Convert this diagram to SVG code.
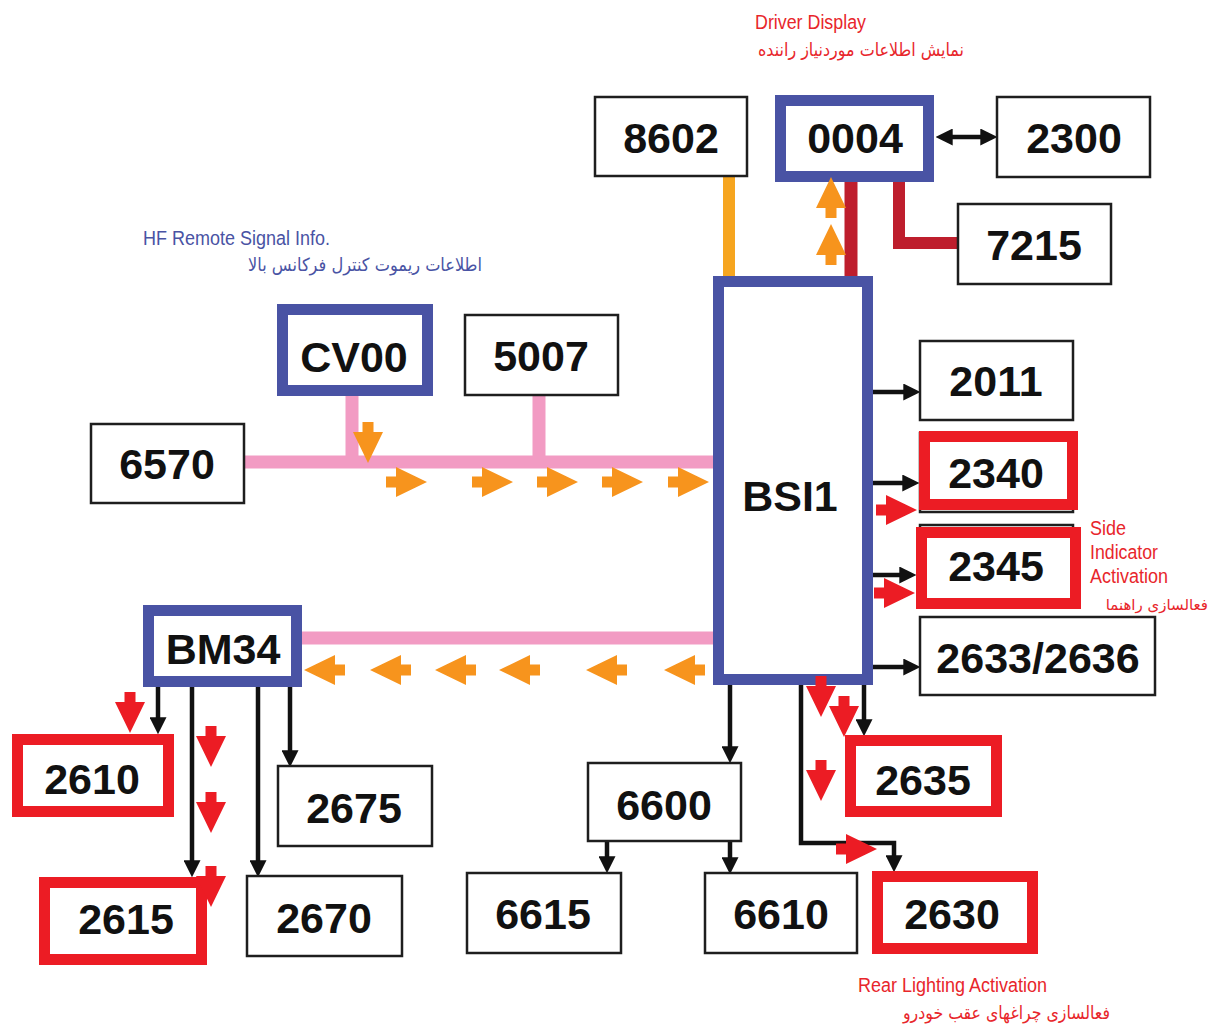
<svg xmlns="http://www.w3.org/2000/svg" xmlns:xlink="http://www.w3.org/1999/xlink" width="1217" height="1024" viewBox="0 0 1217 1024">
<style>
.box{fill:#fff;stroke:#1e1e1e;stroke-width:2.5}
.blue{fill:#fff;stroke:#4953a4;stroke-width:11}
.red{fill:#fff;stroke:#ec1c24;stroke-width:11}
.lbl{font-family:"Liberation Sans",Arial,sans-serif;font-weight:bold;font-size:43px;fill:#111;text-anchor:middle}
.ln{fill:none;stroke:#111;stroke-width:4.5;marker-end:url(#ah)}
.en{font-family:"Liberation Sans Narrow","Liberation Sans",Arial,sans-serif;font-size:20px}
.fa{font-family:"DejaVu Sans","Noto Sans",sans-serif;font-size:18px}
.rt{fill:#e8262b}
.bt{fill:#4953a4}
.or{fill:#f7941d}
.rd{fill:#ec1c24}
</style>
<defs>
<marker id="ah" markerUnits="userSpaceOnUse" markerWidth="17" markerHeight="17" refX="8" refY="7" orient="auto-start-reverse" viewBox="0 0 14 14">
<path d="M0,0 L14,7 L0,14 Z" fill="#111"/>
</marker>
<path id="ba" d="M-41,-5.5 H-31 V-15 L0,0 L-31,15 V5.5 H-41 Z"/>
</defs>

<g id="connectors">
<path d="M245,462 H714" stroke="#f29bc3" stroke-width="13" fill="none"/>
<path d="M352,396 V462" stroke="#f29bc3" stroke-width="13" fill="none"/>
<path d="M539,395 V462" stroke="#f29bc3" stroke-width="13" fill="none"/>
<path d="M302,638 H714" stroke="#f29bc3" stroke-width="13" fill="none"/>
<path d="M729,176 V278" stroke="#f6a51f" stroke-width="12" fill="none"/>
<path d="M851,182 V278" stroke="#be1e2d" stroke-width="13" fill="none"/>
<path d="M899,182 V243 H959" stroke="#be1e2d" stroke-width="12" fill="none"/>
<path class="ln" d="M943,137 H990" marker-start="url(#ah)"/>
<path class="ln" d="M873,392 H913"/>
<path class="ln" d="M873,483 H912"/>
<path class="ln" d="M873,575 H909"/>
<path class="ln" d="M873,667 H913"/>
<path class="ln" d="M730,685 V756"/>
<path class="ln" d="M864,685 V729"/>
<path class="ln" d="M801,685 V843 H894 V865"/>
<path class="ln" d="M607,841 V866"/>
<path class="ln" d="M730,841 V867"/>
<path class="ln" d="M158,687 V727"/>
<path class="ln" d="M192,687 V870"/>
<path class="ln" d="M258,687 V870"/>
<path class="ln" d="M290,687 V760"/>
</g>

<g id="node-8602"><rect class="box" x="595" y="97" width="152" height="79"/><text class="lbl" x="671" y="153">8602</text></g>
<g id="node-0004"><rect class="blue" x="780.5" y="100.5" width="148" height="76"/><text class="lbl" x="855" y="153">0004</text></g>
<g id="node-2300"><rect class="box" x="997" y="97" width="153" height="80"/><text class="lbl" x="1074" y="153">2300</text></g>
<g id="node-7215"><rect class="box" x="958" y="204" width="153" height="80"/><text class="lbl" x="1034" y="260">7215</text></g>
<g id="node-CV00"><rect class="blue" x="282.5" y="309.5" width="145" height="81"/><text class="lbl" x="354" y="372">CV00</text></g>
<g id="node-5007"><rect class="box" x="465" y="315" width="153" height="80"/><text class="lbl" x="541" y="371">5007</text></g>
<g id="node-6570"><rect class="box" x="91" y="424" width="153" height="79"/><text class="lbl" x="167" y="479">6570</text></g>
<g id="node-BSI1"><rect class="blue" x="718.5" y="281.5" width="149" height="398"/><text class="lbl" x="790" y="511">BSI1</text></g>
<g id="node-2011"><rect class="box" x="920" y="341" width="153" height="79"/><text class="lbl" x="996" y="396">2011</text></g>
<g id="node-2340"><rect class="box" x="920" y="433" width="153" height="79"/><rect class="red" x="924.5" y="436.5" width="148" height="68"/><text class="lbl" x="996" y="488">2340</text></g>
<g id="node-2345"><rect class="box" x="920" y="525" width="153" height="79"/><rect class="red" x="921.5" y="532.5" width="154" height="71"/><text class="lbl" x="996" y="581">2345</text></g>
<g id="node-2633-2636"><rect class="box" x="920" y="617" width="235" height="78"/><text class="lbl" x="1038" y="673">2633/2636</text></g>
<g id="node-BM34"><rect class="blue" x="148.5" y="610.5" width="148" height="71"/><text class="lbl" x="223" y="664">BM34</text></g>
<g id="node-2610"><rect class="red" x="17.5" y="739.5" width="151" height="72"/><text class="lbl" x="92" y="794">2610</text></g>
<g id="node-2615"><rect class="red" x="44.5" y="882.5" width="157" height="77"/><text class="lbl" x="126" y="934">2615</text></g>
<g id="node-2675"><rect class="box" x="278" y="766" width="154" height="80"/><text class="lbl" x="354" y="823">2675</text></g>
<g id="node-2670"><rect class="box" x="247" y="876" width="155" height="80"/><text class="lbl" x="324" y="933">2670</text></g>
<g id="node-6600"><rect class="box" x="588" y="763" width="153" height="78"/><text class="lbl" x="664" y="820">6600</text></g>
<g id="node-6615"><rect class="box" x="467" y="873" width="154" height="80"/><text class="lbl" x="543" y="929">6615</text></g>
<g id="node-6610"><rect class="box" x="705" y="873" width="152" height="80"/><text class="lbl" x="781" y="929">6610</text></g>
<g id="node-2630"><rect class="red" x="877.5" y="876.5" width="155" height="72"/><text class="lbl" x="952" y="929">2630</text></g>
<g id="node-2635"><rect class="red" x="850.5" y="740.5" width="146" height="71"/><text class="lbl" x="923" y="795">2635</text></g>

<g id="flow-arrows">
<use href="#ba" class="or" transform="translate(831,177) rotate(-90)"/>
<use href="#ba" class="or" transform="translate(831,224) rotate(-90)"/>
<use href="#ba" class="or" transform="translate(368,463) rotate(90)"/>
<use href="#ba" class="or" transform="translate(427,482)"/>
<use href="#ba" class="or" transform="translate(513,482)"/>
<use href="#ba" class="or" transform="translate(578,482)"/>
<use href="#ba" class="or" transform="translate(643,482)"/>
<use href="#ba" class="or" transform="translate(709,482)"/>
<use href="#ba" class="or" transform="translate(304,670) rotate(180)"/>
<use href="#ba" class="or" transform="translate(370,670) rotate(180)"/>
<use href="#ba" class="or" transform="translate(435,670) rotate(180)"/>
<use href="#ba" class="or" transform="translate(499,670) rotate(180)"/>
<use href="#ba" class="or" transform="translate(586,670) rotate(180)"/>
<use href="#ba" class="or" transform="translate(664,670) rotate(180)"/>
<use href="#ba" class="rd" transform="translate(917,510)"/>
<use href="#ba" class="rd" transform="translate(915,593)"/>
<use href="#ba" class="rd" transform="translate(821,717) rotate(90)"/>
<use href="#ba" class="rd" transform="translate(844,737) rotate(90)"/>
<use href="#ba" class="rd" transform="translate(821,801) rotate(90)"/>
<use href="#ba" class="rd" transform="translate(877,849)"/>
<use href="#ba" class="rd" transform="translate(130,733) rotate(90)"/>
<use href="#ba" class="rd" transform="translate(211,767) rotate(90)"/>
<use href="#ba" class="rd" transform="translate(211,833) rotate(90)"/>
<use href="#ba" class="rd" transform="translate(211,907) rotate(90)"/>
</g>

<g id="labels">
<text class="en rt" x="755" y="29" textLength="111" lengthAdjust="spacingAndGlyphs">Driver Display</text>
<text class="fa rt" x="758" y="56" textLength="206" lengthAdjust="spacingAndGlyphs">نمایش اطلاعات موردنیاز راننده</text>
<text class="en bt" x="143" y="245" textLength="187" lengthAdjust="spacingAndGlyphs">HF Remote Signal Info.</text>
<text class="fa bt" x="248" y="271" textLength="234" lengthAdjust="spacingAndGlyphs">اطلاعات ریموت کنترل فرکانس بالا</text>
<text class="en rt" x="1090" y="535" textLength="36" lengthAdjust="spacingAndGlyphs">Side</text>
<text class="en rt" x="1090" y="559" textLength="68" lengthAdjust="spacingAndGlyphs">Indicator</text>
<text class="en rt" x="1090" y="583" textLength="78" lengthAdjust="spacingAndGlyphs">Activation</text>
<text class="fa rt" x="1208" y="610" text-anchor="end" style="font-size:15px">فعالسازی راهنما</text>
<text class="en rt" x="858" y="992" textLength="189" lengthAdjust="spacingAndGlyphs">Rear Lighting Activation</text>
<text class="fa rt" x="903" y="1019" textLength="207" lengthAdjust="spacingAndGlyphs">فعالسازی چراغهای عقب خودرو</text>
</g>
</svg>
